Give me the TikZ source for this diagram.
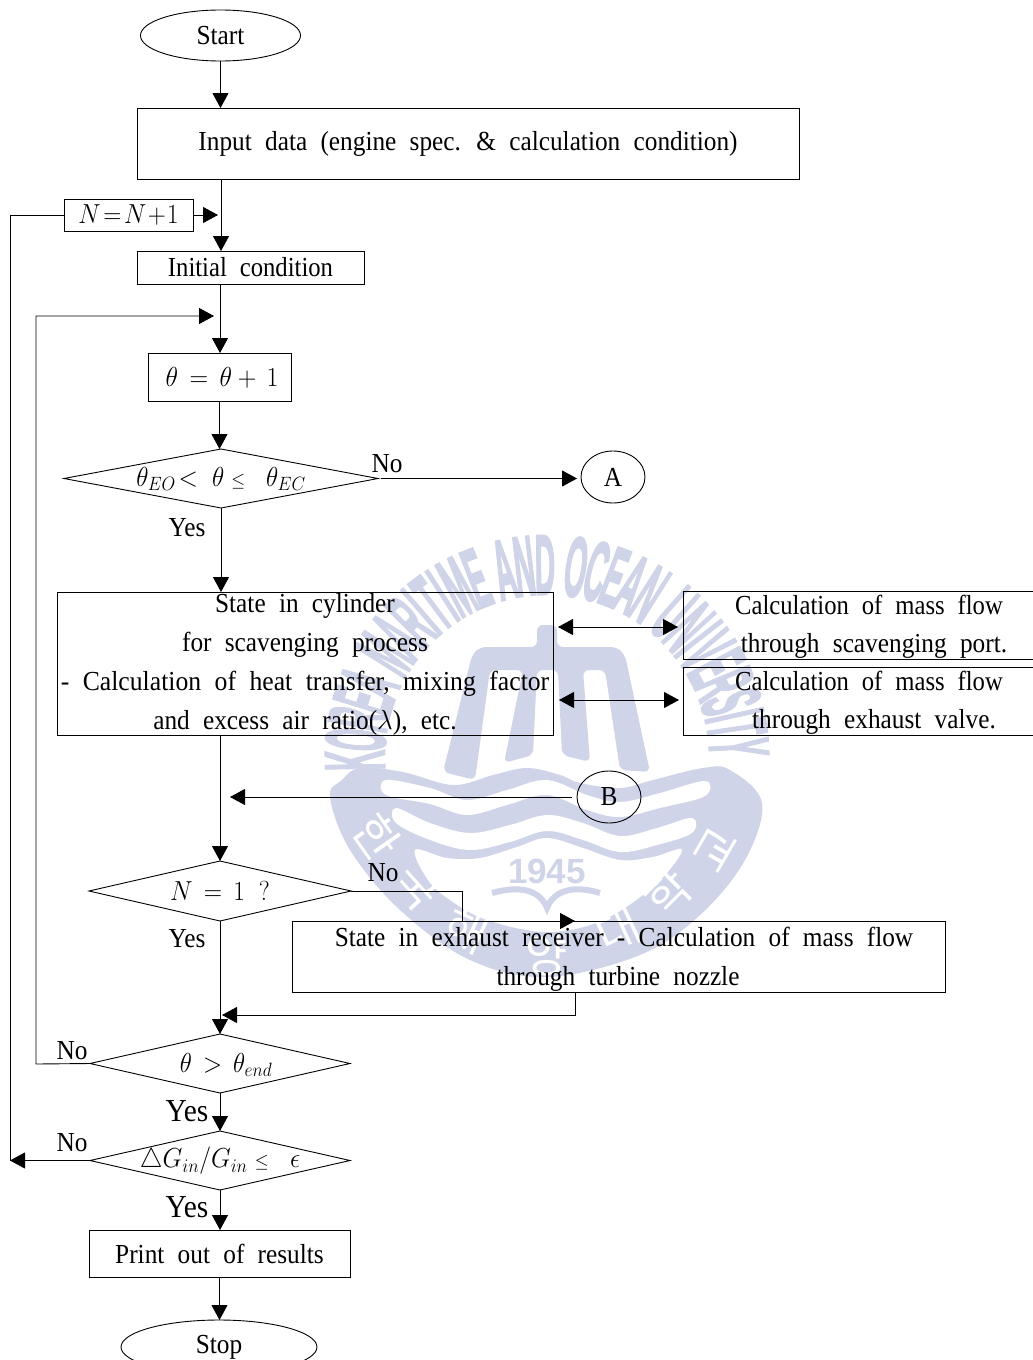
\RequirePackage{fix-cm}
\documentclass[tikz,border=0pt]{standalone}
\usepackage{fontspec}
\setmainfont[FakeStretch=0.92,WordSpace=2.1]{Liberation Serif}
\newfontfamily\wmfont[UprightFont=* Bold,FakeBold=3]{Liberation Sans}
\newfontfamily\wmnum{Liberation Sans}
\newfontfamily\krfont{Noto Sans CJK KR}
\usetikzlibrary{shapes.geometric,arrows.meta}
\definecolor{wm}{RGB}{208,212,232}
\newcommand{\nar}[1]{\scalebox{0.975}[1]{#1}}
\newcommand{\mnar}[2]{\scalebox{#1}[1]{#2}}
\tikzset{
  every node/.style={font=\fontsize{27.5}{32}\selectfont,inner sep=0pt,outer sep=0pt},
  flowbox/.style={draw,line width=0.9pt,rectangle},
  decision/.style={draw,line width=0.9pt,diamond},
  term/.style={draw,line width=0.9pt,ellipse},
  conn/.style={line width=1pt},
  arr/.style={line width=0.9pt,-{Triangle[length=15pt,width=16pt]}},
  darr/.style={line width=0.9pt,{Triangle[length=15pt,width=16pt]}-{Triangle[length=15pt,width=16pt]}},
  lab/.style={},
  yesbig/.style={font=\fontsize{32}{36}\selectfont},
  wmletter/.style={text=wm,font=\fontsize{85}{85}\wmfont},
  krletter/.style={text=white,font=\fontsize{46}{46}\krfont}
}
\begin{document}
\begin{tikzpicture}[x=1pt,y=-1pt]
\clip (0,0) rectangle (1033,1360);
% watermark
\fill[wm] plot[smooth cycle,tension=0.6] coordinates {(330,797)(342,780)(360,768)(403,772)(453,785)(493,775)(527,768)(560,775)(580,783)(620,788)(653,780)(703,768)(730,770)(762,803)(745,860)(700,915)(640,955)(547,977)(470,960)(400,910)(350,850)};
\fill[white] plot[smooth cycle,tension=0.6] coordinates {(386,780)(430,788)(467,800)(507,790)(547,780)(587,795)(620,802)(660,793)(705,781)(705,796)(660,808)(620,817)(587,810)(547,795)(507,805)(467,815)(430,804)(386,795)};
\fill[white] plot[smooth cycle,tension=0.6] coordinates {(396,808)(430,823)(470,833)(510,825)(547,815)(583,823)(620,836)(657,828)(692,818)(692,833)(657,845)(620,852)(583,840)(547,831)(510,842)(470,850)(430,840)(396,823)};
\fill[white] plot[smooth cycle,tension=0.6] coordinates {(415,850)(447,858)(480,858)(517,847)(547,838)(583,848)(620,860)(653,857)(682,850)(655,885)(603,920)(547,932)(487,920)(450,900)(428,880)};
\node[text=wm,font=\fontsize{35}{35}\bfseries\wmnum] (wyear) at (547,871) {1945};
\draw[wm,line width=6pt] (492,893) .. controls (520,885) and (540,890) .. (547,908) .. controls (554,890) and (574,885) .. (600,893);
\fill[wm,rounded corners=6pt] (537,625)--(557,625)--(557,647)--(617,647)--(625,655)--(650,772)--(620,770)--(605,670)--(583,670)--(590,762)--(562,755)--(558,670)--(537,670)--(533,755)--(504,763)--(523,670)--(490,670)--(475,780)--(443,772)--(472,655)--(480,647)--(537,647)--cycle;
\gdef\acc{0}
\foreach \ch/\w in {K/1,O/1.1,R/1,E/.9,A/1,{}/.5,M/1.25,A/1,R/1,I/.45,T/.9,I/.45,M/1.25,E/.9,{}/.5,A/1,N/1.05,D/1.05,{}/.5,O/1.1,C/1,E/.9,A/1,N/1.05,{}/.5,U/1.05,N/1.05,I/.45,V/1,E/.9,R/1,S/.95,I/.45,T/.9,Y/1}{
  \pgfmathsetmacro{\mid}{\acc+\w/2}
  \pgfmathsetmacro{\ang}{184-\mid*5.92}
  \pgfmathsetmacro{\px}{547+192*cos(\ang)}
  \pgfmathsetmacro{\py}{757-192*sin(\ang)}
  \pgfmathsetmacro{\rot}{\ang-90}
  \node[wmletter,rotate=\rot] at (\px,\py) {\scalebox{0.33}[1]{\ch}};
  \pgfmathsetmacro{\nx}{\acc+\w}
  \global\let\acc\nx
}
\node[krletter,rotate=-55] (k1) at (377,837) {한};
\node[krletter,rotate=-48] (k2) at (417,887) {국};
\node[krletter,rotate=-25] (k3) at (467,930) {해};
\node[krletter] (k4) at (547,955) {양};
\node[krletter,rotate=25] (k5) at (618,930) {대};
\node[krletter,rotate=45] (k6) at (668,893) {학};
\node[krletter,rotate=60] (k7) at (715,850) {교};
% nodes
\node[term,minimum width=160,minimum height=51] (start) at (220.5,35.5) {Start};
\node[flowbox,minimum width=662,minimum height=71] (input) at (468,143.5) {\raisebox{-1pt}{Input data (engine spec. \& calculation condition)}};
\node[flowbox,minimum width=129,minimum height=32] (nbox) at (128.5,215) {\mnar{0.91}{$N\!=\!N\!+\!1$}};
\node[flowbox,minimum width=227,minimum height=33] (init) at (250.5,267.5) {\raisebox{1pt}{\nar{Initial condition}}};
\node[flowbox,minimum width=143,minimum height=48] (theta) at (219.5,377) {};
\node (thetat) at (222,378) {\mnar{0.94}{$\theta\,=\,\theta+\,1$}};
\node[decision,minimum width=314,minimum height=59] (d1) at (221,478.5) {};
\node (d1t) at (221,479) {\mnar{0.92}{$\theta_{EO}\!<\;\theta\;{\scriptstyle\leq}\;\;\;\theta_{EC}$}};
\node[term,minimum width=64,minimum height=52] (a) at (613,477) {A};
\node[flowbox,minimum width=496,minimum height=143] (state) at (305,663.5) {};
\node[align=center] (statet) at (305,664.5) {State in cylinder\\[7pt]for scavenging process\\[7pt]\scalebox{1.015}[1]{- Calculation of heat transfer, mixing factor}\\[7pt]and excess air ratio($\lambda$), etc.};
\node[flowbox,minimum width=370,minimum height=68] (c1) at (868,625) {};
\node (c1a) at (869,605) {\nar{Calculation of mass flow}};
\node (c1b) at (874,646) {through scavenging port.};
\node[flowbox,minimum width=370,minimum height=68] (c2) at (868,701) {};
\node (c2a) at (869,681) {\nar{Calculation of mass flow}};
\node (c2b) at (874,722) {through exhaust valve.};
\node[term,minimum width=64,minimum height=52] (b) at (609,797) {B};
\node[decision,minimum width=262,minimum height=60] (d2) at (220,891) {};
\node (d2t) at (220,891) {\mnar{0.92}{$N\,=\,1\;\;?$}};
\node[flowbox,minimum width=653,minimum height=71] (ex) at (618.5,956.5) {};
\node (exa) at (624,936.5) {State in exhaust receiver - Calculation of mass flow};
\node (exb) at (618,979) {through turbine nozzle};
\node[decision,minimum width=260,minimum height=59] (d3) at (220,1063.5) {};
\node (d3t) at (226,1065) {\mnar{0.91}{$\theta\,>\,\theta_{end}$}};
\node[decision,minimum width=260,minimum height=59] (d4) at (220,1160.5) {};
\node (d4t) at (220,1161) {\mnar{0.93}{$\triangle G_{in}/G_{in}\;{\scriptstyle\leq}\;\;\;\epsilon$}};
\node[flowbox,minimum width=261,minimum height=47] (print) at (219.5,1253.5) {Print out of results};
\node[term,minimum width=196,minimum height=54] (stop) at (219,1347) {\raisebox{2pt}{Stop}};
% labels
\node[lab] (l1) at (387,464) {No};
\node[lab] (l2) at (187,528) {Yes};
\node[lab] (l3) at (383,873) {No};
\node[lab] (l4) at (187,939) {Yes};
\node[lab] (l5) at (72,1051) {No};
\node[yesbig] (l6) at (187,1111) {Yes};
\node[lab] (l7) at (72,1143) {No};
\node[yesbig] (l8) at (187,1207) {Yes};
% junctions
\coordinate (inpout) at (221,179);
\coordinate (nj) at (218,215);
\coordinate (initout) at (220,285);
\coordinate (o1) at (10,215);
\coordinate (o2) at (10,1160.5);
\coordinate (lp1) at (36,1064);
\coordinate (lp2) at (36,316);
\coordinate (lp3) at (214,316);
\coordinate (a1) at (558,627);
\coordinate (a2) at (678,627);
\coordinate (a3) at (559,700);
\coordinate (a4) at (679,700);
\coordinate (bt) at (230,797);
\coordinate (sout) at (220,735);
\coordinate (j1) at (462,921);
\coordinate (j2) at (575,921);
\coordinate (ex1) at (575,992);
\coordinate (ex2) at (575,1015);
\coordinate (ex3) at (222,1015);
% connectors
\draw[arr] (start.south) -- (start.south |- input.north);
\draw[arr] (inpout) -- (inpout |- init.north);
\draw[arr] (nbox.east) -- (nj);
\draw[conn] (nbox.west) -- (o1) -- (o2);
\draw[arr] (d4.west) -- (o2);
\draw[arr] (initout) -- (initout |- theta.north);
\draw[arr] (d3.west) -- (lp1) -- (lp2) -- (lp3);
\draw[arr] (theta.south) -- (theta.south |- d1.north);
\draw[arr,shorten <=3pt,shorten >=4pt] (d1.east) -- (d1.east -| a.west);
\draw[arr] (d1.south) -- (d1.south |- state.north);
\draw[darr] (a1) -- (a2);
\draw[darr] (a3) -- (a4);
\draw[arr] (sout) -- (sout |- d2.north);
\draw[arr,shorten <=5pt] (b.west) -- (bt);
\draw[conn] (d2.east) -| (j1);
\draw[arr] (j1) -- (j2);
\draw[arr] (d2.south) -- (d2.south |- d3.north);
\draw[arr] (ex1) -- (ex2) -- (ex3);
\draw[arr] (d3.south) -- (d4.north);
\draw[arr] (d4.south) -- (d4.south |- print.north);
\draw[arr] (print.south) -- (print.south |- stop.north);
\end{tikzpicture}
\end{document}
